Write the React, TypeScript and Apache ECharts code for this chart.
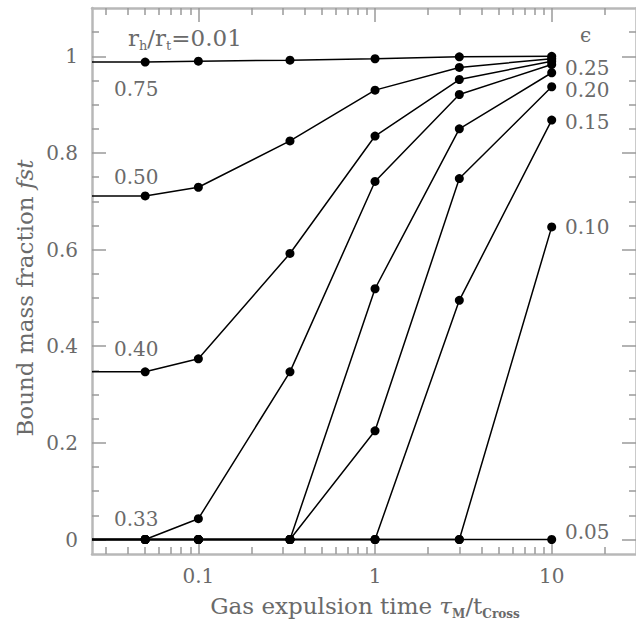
import React, { useEffect, useRef } from "react";
import * as echarts from "echarts";

const X_MIN = 0.025;
const X_MAX = 30;
const Y_MIN = -0.03;
const Y_MAX = 1.1;

// gas expulsion time tau_M / t_cross; the first entry is the instantaneous limit, drawn at the left edge
const tau = [X_MIN, 0.05, 0.1, 0.33, 1, 3, 10];

const eps075 = [0.988, 0.988, 0.99, 0.992, 0.995, 0.999, 1.0];
const eps050 = [0.711, 0.711, 0.729, 0.825, 0.93, 0.977, 0.995];
const eps040 = [0.347, 0.347, 0.374, 0.592, 0.835, 0.952, 0.99];
const eps033 = [0, 0, 0.043, 0.347, 0.741, 0.921, 0.983];
const eps025 = [0, 0, 0, 0, 0.519, 0.85, 0.966];
const eps020 = [0, 0, 0, 0, 0.225, 0.747, 0.937];
const eps015 = [0, 0, 0, 0, 0, 0.495, 0.868];
const eps010 = [0, 0, 0, 0, 0, 0, 0.647];
const eps005 = [0, 0, 0, 0, 0, 0, 0];

const seriesList = [
  { name: "0.75", values: eps075 },
  { name: "0.50", values: eps050 },
  { name: "0.40", values: eps040 },
  { name: "0.33", values: eps033 },
  { name: "0.25", values: eps025 },
  { name: "0.20", values: eps020 },
  { name: "0.15", values: eps015 },
  { name: "0.10", values: eps010 },
  { name: "0.05", values: eps005 },
];

const majorX = [0.1, 1, 10];
const minorX = [0.03, 0.04, 0.05, 0.06, 0.07, 0.08, 0.09, 0.2, 0.3, 0.4, 0.5, 0.6, 0.7, 0.8, 0.9, 2, 3, 4, 5, 6, 7, 8, 9, 20];
const majorY = [0, 0.2, 0.4, 0.6, 0.8, 1];
const minorY = [0.05, 0.1, 0.15, 0.25, 0.3, 0.35, 0.45, 0.5, 0.55, 0.65, 0.7, 0.75, 0.85, 0.9, 0.95, 1.05];

const FONT = "DejaVu Serif";
const GREY = "#6a6a6a";
const FRAME = { color: "#b8b8b8", width: 2.5 };
const TICK = { color: "#9a9a9a", width: 1.5 };
const MAJOR_LEN = 14;
const MINOR_LEN = 7;

function xAxisDef(position: "top" | "bottom", ticks: number[], major: boolean, labels: boolean) {
  return {
    type: "log",
    logBase: 10,
    min: X_MIN,
    max: X_MAX,
    position,
    axisLine: { show: major, onZero: false, lineStyle: FRAME },
    axisTick: {
      show: true,
      inside: true,
      length: major ? MAJOR_LEN : MINOR_LEN,
      customValues: ticks,
      lineStyle: TICK,
    },
    axisLabel: labels
      ? {
          show: true,
          customValues: majorX,
          margin: 12,
          color: GREY,
          fontFamily: FONT,
          fontSize: 20,
          formatter: (v: number) => String(+Number(v).toPrecision(3)),
        }
      : { show: false },
    splitLine: { show: false },
    minorTick: { show: false },
  };
}

function yAxisDef(position: "left" | "right", ticks: number[], major: boolean, labels: boolean) {
  return {
    type: "value",
    min: Y_MIN,
    max: Y_MAX,
    position,
    axisLine: { show: major, onZero: false, lineStyle: FRAME },
    axisTick: {
      show: true,
      inside: true,
      length: major ? MAJOR_LEN : MINOR_LEN,
      customValues: ticks,
      lineStyle: TICK,
    },
    axisLabel: labels
      ? {
          show: true,
          customValues: majorY,
          margin: 14,
          color: GREY,
          fontFamily: FONT,
          fontSize: 20,
          formatter: (v: number) => String(+Number(v).toFixed(2)),
        }
      : { show: false },
    splitLine: { show: false },
  };
}

function label(text: string, x: number, y: number) {
  return {
    type: "text",
    x,
    y,
    style: {
      text,
      fill: GREY,
      font: `20px '${FONT}'`,
      align: "left",
      verticalAlign: "middle",
    },
  };
}

export default function App() {
  const ref = useRef<HTMLDivElement>(null);

  useEffect(() => {
    if (!ref.current) return;
    const chart = echarts.init(ref.current, undefined, { renderer: "svg" });

    const series = seriesList.map((s) => ({
      type: "line",
      name: s.name,
      xAxisIndex: 0,
      yAxisIndex: 0,
      symbol: "circle",
      symbolSize: 9,
      lineStyle: { color: "#000", width: 1.5 },
      itemStyle: { color: "#000" },
      data: tau.map((t, i) => ({
        value: [t, s.values[i]],
        symbol: i === 0 ? "none" : "circle",
      })),
    }));

    const option = {
      animation: false,
      backgroundColor: "#fff",
      grid: { left: 92, right: 0, top: 8, bottom: 76, containLabel: false },
      xAxis: [
        xAxisDef("bottom", majorX, true, true),
        xAxisDef("bottom", minorX, false, false),
        xAxisDef("top", majorX, true, false),
        xAxisDef("top", minorX, false, false),
      ],
      yAxis: [
        yAxisDef("left", majorY, true, true),
        yAxisDef("left", minorY, false, false),
        yAxisDef("right", majorY, true, false),
        yAxisDef("right", minorY, false, false),
      ],
      series,
      graphic: [
        {
          type: "text",
          x: 128,
          y: 39,
          style: {
            text: "{a|r}{s|h}{a|/r}{s|t}{a|=0.01}",
            fill: GREY,
            align: "left",
            verticalAlign: "middle",
            rich: {
              a: { fontFamily: FONT, fontSize: 23, color: GREY, lineHeight: 26, verticalAlign: "top" },
              s: { fontFamily: FONT, fontSize: 13, color: GREY, lineHeight: 11, verticalAlign: "bottom" },
            },
          },
        },
        label("0.75", 114, 89),
        label("0.50", 114, 177),
        label("0.40", 114, 349),
        label("0.33", 114, 519),
        label("ϵ", 580, 35),
        label("0.25", 565, 68),
        label("0.20", 565, 90),
        label("0.15", 565, 122),
        label("0.10", 565, 227),
        label("0.05", 565, 532),
        {
          type: "text",
          x: 365,
          y: 607,
          style: {
            text: "{a|Gas expulsion time }{i|τ}{s|M}{a|/t}{s|Cross}",
            fill: GREY,
            align: "center",
            verticalAlign: "middle",
            rich: {
              a: { fontFamily: FONT, fontSize: 23, color: GREY, lineHeight: 26, verticalAlign: "top" },
              i: { fontFamily: FONT, fontSize: 23, fontStyle: "italic", color: GREY, lineHeight: 26, verticalAlign: "top" },
              s: { fontFamily: FONT, fontSize: 12, fontWeight: "bold", color: GREY, lineHeight: 10, verticalAlign: "bottom" },
            },
          },
        },
        {
          type: "text",
          x: 25,
          y: 298,
          rotation: Math.PI / 2,
          style: {
            text: "{a|Bound mass fraction }{i|fst}",
            fill: GREY,
            align: "center",
            verticalAlign: "middle",
            rich: {
              a: { fontFamily: FONT, fontSize: 23, color: GREY },
              i: { fontFamily: FONT, fontSize: 23, fontStyle: "italic", color: GREY },
            },
          },
        },
      ],
    };

    chart.setOption(option as any);
    return () => chart.dispose();
  }, []);

  return (
    <div
      ref={ref}
      style={{ position: "fixed", left: 0, top: 0, width: 636, height: 630, background: "#fff" }}
    />
  );
}
